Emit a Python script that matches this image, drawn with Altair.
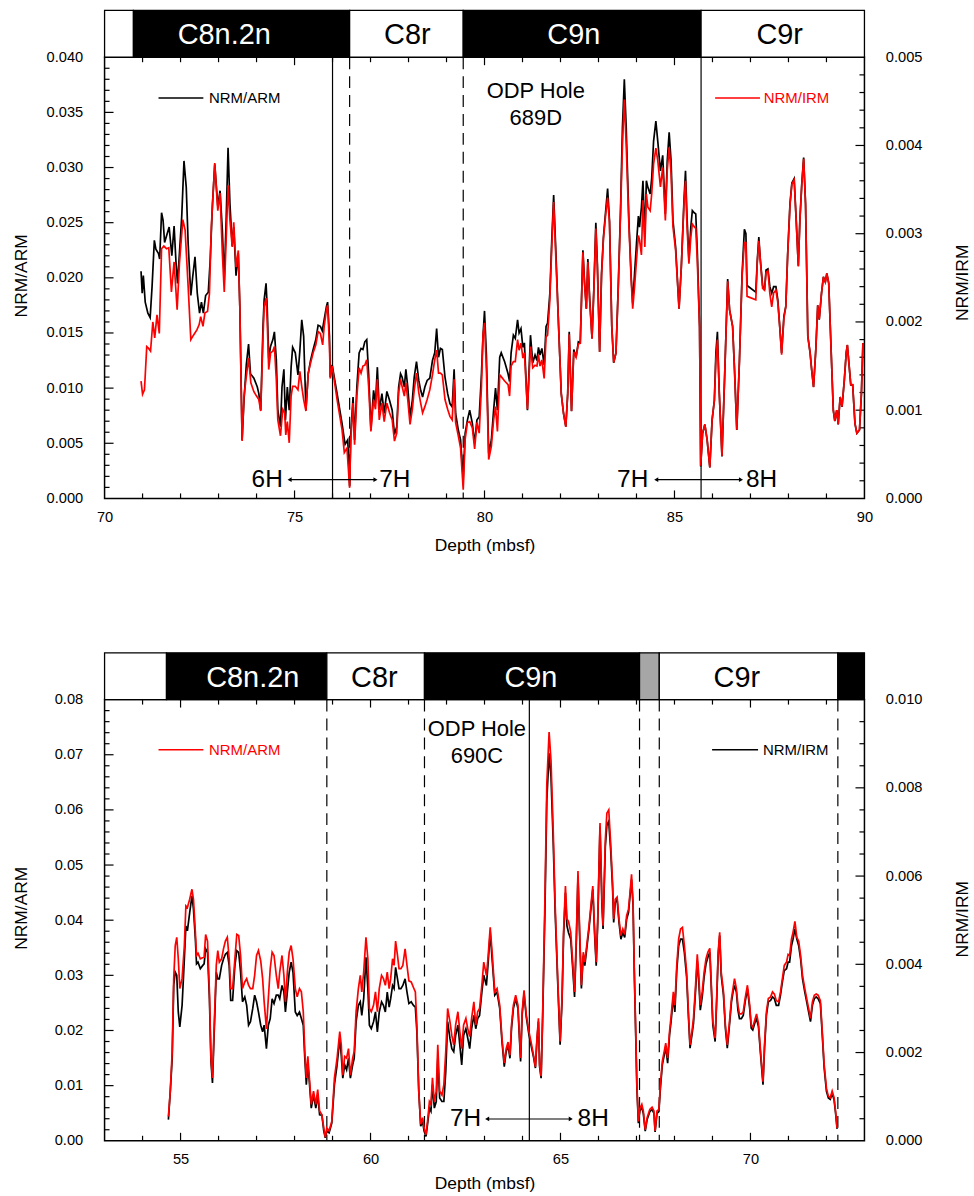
import altair as alt
import pandas as pd

FONT = "Liberation Sans"
W, H = 763, 443

# ---------------- ODP Hole 689D ----------------
# depth (mbsf), NRM/ARM
TOP_ARM_HEAD = [
    (70.96, 0.0206), (70.99, 0.0186), (71.02, 0.0202), (71.07, 0.0178), (71.14, 0.0168),
    (71.20, 0.0164), (71.25, 0.0192), (71.31, 0.0234), (71.35, 0.0226), (71.42, 0.0222),
    (71.45, 0.0217), (71.50, 0.0259), (71.54, 0.0252), (71.58, 0.0232), (71.63, 0.0238),
    (71.70, 0.0246), (71.77, 0.0220), (71.83, 0.0247), (71.88, 0.0214), (71.92, 0.0195),
    (71.97, 0.0222), (72.03, 0.0255), (72.09, 0.0306), (72.15, 0.0282), (72.20, 0.0231),
    (72.27, 0.0184), (72.32, 0.0201), (72.38, 0.0219), (72.44, 0.0186), (72.50, 0.0168),
    (72.55, 0.0178), (72.60, 0.0168), (72.66, 0.0184), (72.73, 0.0187), (72.78, 0.0216),
    (72.84, 0.0267), (72.90, 0.0303), (72.98, 0.0265), (73.04, 0.0279), (73.10, 0.0243),
    (73.15, 0.0198), (73.20, 0.0252), (73.25, 0.0318), (73.30, 0.0267), (73.36, 0.0229),
    (73.40, 0.0246), (73.46, 0.0202), (73.52, 0.0222), (73.56, 0.0174), (73.62, 0.0053),
    (73.67, 0.0089), (73.73, 0.0121), (73.79, 0.0140), (73.84, 0.0113), (73.93, 0.0109),
    (74.02, 0.0101), (74.06, 0.0095), (74.11, 0.0080), (74.17, 0.0156), (74.20, 0.0180),
    (74.25, 0.0195), (74.28, 0.0174), (74.32, 0.0127), (74.37, 0.0138), (74.43, 0.0144),
    (74.47, 0.0151), (74.52, 0.0126), (74.56, 0.0080), (74.63, 0.0065), (74.67, 0.0101),
    (74.72, 0.0117), (74.76, 0.0071), (74.81, 0.0101), (74.86, 0.0080), (74.91, 0.0119),
    (74.95, 0.0137), (75.02, 0.0132), (75.09, 0.0112), (75.14, 0.0134), (75.19, 0.0162),
    (75.24, 0.0147), (75.30, 0.0080), (75.36, 0.0113), (75.42, 0.0125), (75.49, 0.0135),
    (75.56, 0.0144), (75.62, 0.0157), (75.68, 0.0156), (75.73, 0.0152), (75.78, 0.0162),
    (75.84, 0.0174), (75.87, 0.0178), (75.92, 0.0147), (75.94, 0.0110), (75.99, 0.0121),
    (76.12, 0.0095), (76.25, 0.0068), (76.33, 0.0049), (76.40, 0.0053), (76.45, 0.0011),
    (76.48, 0.0058), (76.54, 0.0092), (76.58, 0.0053), (76.64, 0.0101), (76.70, 0.0132),
    (76.75, 0.0136), (76.80, 0.0135), (76.85, 0.0142), (76.90, 0.0144), (76.95, 0.0113),
    (77.01, 0.0062), (77.08, 0.0098), (77.13, 0.0086), (77.18, 0.0119), (77.23, 0.0080),
    (77.30, 0.0095), (77.36, 0.0077), (77.43, 0.0097), (77.50, 0.0089), (77.57, 0.0080),
    (77.63, 0.0058), (77.69, 0.0065), (77.74, 0.0101), (77.79, 0.0113), (77.83, 0.0110),
    (77.89, 0.0101), (77.93, 0.0117), (77.98, 0.0101), (78.04, 0.0074), (78.10, 0.0089),
    (78.15, 0.0110), (78.21, 0.0124), (78.27, 0.0107), (78.32, 0.0098), (78.37, 0.0092),
    (78.43, 0.0101), (78.49, 0.0107), (78.56, 0.0109), (78.63, 0.0125), (78.69, 0.0132),
    (78.74, 0.0154), (78.79, 0.0128), (78.84, 0.0136), (78.89, 0.0135), (78.96, 0.0110),
    (79.03, 0.0095), (79.09, 0.0086), (79.15, 0.0083), (79.20, 0.0117), (79.24, 0.0077),
    (79.31, 0.0062), (79.37, 0.0053), (79.44, 0.0017), (79.49, 0.0059), (79.55, 0.0071),
    (79.61, 0.0080), (79.68, 0.0068), (79.74, 0.0050), (79.80, 0.0071), (79.86, 0.0074),
    (79.92, 0.0113), (79.96, 0.0147),
]

# depth (mbsf), NRM/IRM
TOP_IRM_HEAD = [
    (70.96, 0.00133), (71.00, 0.00118), (71.05, 0.00123), (71.11, 0.00172), (71.16, 0.00170),
    (71.21, 0.00167), (71.27, 0.00200), (71.32, 0.00182), (71.38, 0.00208), (71.44, 0.00187),
    (71.50, 0.00283), (71.56, 0.00286), (71.63, 0.00283), (71.69, 0.00284), (71.76, 0.00234),
    (71.83, 0.00268), (71.91, 0.00214), (71.97, 0.00266), (72.06, 0.00316), (72.12, 0.00304),
    (72.20, 0.00240), (72.27, 0.00180), (72.34, 0.00185), (72.43, 0.00191), (72.49, 0.00197),
    (72.53, 0.00206), (72.59, 0.00195), (72.64, 0.00210), (72.71, 0.00212), (72.76, 0.00232),
    (72.81, 0.00308), (72.90, 0.00380), (72.98, 0.00326), (73.04, 0.00346), (73.10, 0.00278),
    (73.15, 0.00234), (73.20, 0.00293), (73.25, 0.00355), (73.30, 0.00315), (73.36, 0.00285),
    (73.40, 0.00313), (73.46, 0.00262), (73.52, 0.00281), (73.56, 0.00217), (73.62, 0.00065),
    (73.67, 0.00116), (73.73, 0.00138), (73.79, 0.00159), (73.85, 0.00131), (73.93, 0.00121),
    (74.00, 0.00116), (74.06, 0.00112), (74.11, 0.00099), (74.17, 0.00183), (74.20, 0.00217),
    (74.25, 0.00227), (74.28, 0.00202), (74.32, 0.00146), (74.37, 0.00165), (74.43, 0.00167),
    (74.47, 0.00172), (74.52, 0.00135), (74.56, 0.00089), (74.63, 0.00071), (74.69, 0.00101),
    (74.74, 0.00097), (74.77, 0.00072), (74.81, 0.00087), (74.86, 0.00063), (74.91, 0.00116),
    (74.95, 0.00127), (75.02, 0.00127), (75.09, 0.00123), (75.14, 0.00144), (75.19, 0.00127),
    (75.24, 0.00112), (75.30, 0.00099), (75.36, 0.00142), (75.42, 0.00153), (75.49, 0.00165),
    (75.56, 0.00174), (75.62, 0.00189), (75.68, 0.00187), (75.74, 0.00174), (75.78, 0.00195),
    (75.84, 0.00214), (75.87, 0.00219), (75.92, 0.00172), (75.94, 0.00136), (75.99, 0.00150),
    (76.12, 0.00112), (76.25, 0.00078), (76.31, 0.00052), (76.38, 0.00057), (76.45, 0.00012),
    (76.48, 0.00067), (76.54, 0.00108), (76.58, 0.00061), (76.64, 0.00116), (76.70, 0.00148),
    (76.75, 0.00142), (76.80, 0.00150), (76.85, 0.00151), (76.90, 0.00157), (76.95, 0.00127),
    (77.01, 0.00076), (77.08, 0.00112), (77.13, 0.00101), (77.18, 0.00135), (77.23, 0.00089),
    (77.30, 0.00108), (77.36, 0.00087), (77.43, 0.00108), (77.50, 0.00097), (77.57, 0.00089),
    (77.63, 0.00065), (77.69, 0.00074), (77.74, 0.00120), (77.79, 0.00135), (77.83, 0.00127),
    (77.89, 0.00116), (77.93, 0.00131), (77.98, 0.00112), (78.04, 0.00084), (78.10, 0.00101),
    (78.15, 0.00123), (78.21, 0.00142), (78.27, 0.00120), (78.32, 0.00108), (78.37, 0.00097),
    (78.43, 0.00104), (78.49, 0.00112), (78.56, 0.00123), (78.63, 0.00140), (78.69, 0.00157),
    (78.74, 0.00168), (78.79, 0.00142), (78.84, 0.00142), (78.89, 0.00140), (78.96, 0.00112),
    (79.03, 0.00101), (79.09, 0.00093), (79.15, 0.00089), (79.20, 0.00135), (79.24, 0.00086),
    (79.31, 0.00071), (79.37, 0.00057), (79.44, 0.00010), (79.49, 0.00067), (79.55, 0.00086),
    (79.61, 0.00087), (79.68, 0.00080), (79.74, 0.00056), (79.80, 0.00086), (79.86, 0.00074),
    (79.92, 0.00127), (79.96, 0.00185),
]

# depth (mbsf), NRM/ARM, NRM/IRM
TOP_TAIL = [
    (80.00, 0.0170, 0.00199), (80.05, 0.0130, 0.00146), (80.11, 0.0041, 0.00044),
    (80.18, 0.0053, 0.00059), (80.24, 0.0080, 0.00089), (80.29, 0.0100, 0.00104),
    (80.34, 0.0080, 0.00076), (80.40, 0.0128, 0.00140), (80.44, 0.0132, 0.00138),
    (80.53, 0.0124, 0.00133), (80.62, 0.0113, 0.00129), (80.66, 0.0106, 0.00116),
    (80.70, 0.0132, 0.00150), (80.76, 0.0148, 0.00155), (80.81, 0.0145, 0.00155),
    (80.87, 0.0162, 0.00180), (80.91, 0.0150, 0.00168), (80.96, 0.0154, 0.00176),
    (81.01, 0.0137, 0.00159), (81.05, 0.0141, 0.00165), (81.13, 0.0080, 0.00101),
    (81.21, 0.0148, 0.00172), (81.27, 0.0123, 0.00148), (81.33, 0.0130, 0.00151),
    (81.38, 0.0125, 0.00150), (81.42, 0.0137, 0.00163), (81.46, 0.0130, 0.00150),
    (81.51, 0.0136, 0.00157), (81.57, 0.0121, 0.00136), (81.62, 0.0156, 0.00183),
    (81.66, 0.0159, 0.00185), (81.72, 0.0186, 0.00225), (81.77, 0.0234, 0.00285),
    (81.82, 0.0275, 0.00336), (81.88, 0.0222, 0.00270), (81.95, 0.0156, 0.00195),
    (82.02, 0.0095, 0.00119), (82.08, 0.0077, 0.00096), (82.14, 0.0065, 0.00081),
    (82.19, 0.0095, 0.00119), (82.23, 0.0151, 0.00186), (82.29, 0.0079, 0.00099),
    (82.35, 0.0135, 0.00166), (82.41, 0.0128, 0.00160), (82.47, 0.0142, 0.00175),
    (82.52, 0.0141, 0.00176), (82.59, 0.0225, 0.00279), (82.63, 0.0198, 0.00245),
    (82.68, 0.0172, 0.00215), (82.72, 0.0217, 0.00268), (82.77, 0.0180, 0.00222),
    (82.83, 0.0145, 0.00181), (82.88, 0.0192, 0.00238), (82.93, 0.0250, 0.00306),
    (82.97, 0.0213, 0.00263), (83.03, 0.0133, 0.00166), (83.08, 0.0204, 0.00252),
    (83.13, 0.0237, 0.00294), (83.19, 0.0261, 0.00322), (83.24, 0.0281, 0.00341),
    (83.29, 0.0252, 0.00312), (83.35, 0.0156, 0.00195), (83.40, 0.0123, 0.00154),
    (83.46, 0.0132, 0.00165), (83.52, 0.0192, 0.00238), (83.58, 0.0261, 0.00322),
    (83.63, 0.0336, 0.00400), (83.68, 0.0380, 0.00452), (83.73, 0.0336, 0.00400),
    (83.80, 0.0252, 0.00310), (83.86, 0.0201, 0.00248), (83.90, 0.0177, 0.00215),
    (83.95, 0.0204, 0.00240), (84.00, 0.0231, 0.00270), (84.05, 0.0256, 0.00298),
    (84.08, 0.0246, 0.00293), (84.13, 0.0264, 0.00276), (84.17, 0.0288, 0.00338),
    (84.22, 0.0237, 0.00285), (84.26, 0.0288, 0.00345), (84.30, 0.0282, 0.00330),
    (84.36, 0.0276, 0.00326), (84.40, 0.0290, 0.00345), (84.45, 0.0324, 0.00379),
    (84.51, 0.0342, 0.00397), (84.56, 0.0324, 0.00383), (84.63, 0.0297, 0.00353),
    (84.69, 0.0311, 0.00375), (84.76, 0.0258, 0.00315), (84.81, 0.0306, 0.00372),
    (84.86, 0.0332, 0.00398), (84.91, 0.0306, 0.00368), (84.96, 0.0252, 0.00308),
    (85.03, 0.0228, 0.00281), (85.12, 0.0172, 0.00215), (85.18, 0.0210, 0.00262),
    (85.25, 0.0270, 0.00334), (85.29, 0.0297, 0.00360), (85.33, 0.0255, 0.00308),
    (85.38, 0.0216, 0.00266), (85.43, 0.0246, 0.00296), (85.47, 0.0261, 0.00311),
    (85.52, 0.0259, 0.00308), (85.56, 0.0258, 0.00306), (85.60, 0.0225, 0.00270),
    (85.66, 0.0156, 0.00195), (85.69, 0.0029, 0.00037), (85.74, 0.0059, 0.00074),
    (85.80, 0.0067, 0.00084), (85.86, 0.0053, 0.00066), (85.93, 0.0028, 0.00035),
    (85.99, 0.0071, 0.00089), (86.05, 0.0089, 0.00111), (86.09, 0.0132, 0.00157),
    (86.13, 0.0151, 0.00180), (86.18, 0.0095, 0.00119), (86.25, 0.0038, 0.00048),
    (86.32, 0.0110, 0.00138), (86.40, 0.0199, 0.00246), (86.45, 0.0171, 0.00214),
    (86.53, 0.0156, 0.00195), (86.58, 0.0117, 0.00146), (86.64, 0.0062, 0.00078),
    (86.71, 0.0125, 0.00156), (86.78, 0.0204, 0.00252), (86.84, 0.0244, 0.00290),
    (86.88, 0.0240, 0.00290), (86.91, 0.0193, 0.00229), (87.14, 0.0187, 0.00225),
    (87.18, 0.0216, 0.00268), (87.22, 0.0237, 0.00292), (87.26, 0.0216, 0.00270),
    (87.32, 0.0193, 0.00238), (87.37, 0.0189, 0.00236), (87.41, 0.0207, 0.00256),
    (87.46, 0.0208, 0.00258), (87.51, 0.0192, 0.00232), (87.56, 0.0186, 0.00217),
    (87.61, 0.0192, 0.00233), (87.67, 0.0192, 0.00236), (87.72, 0.0180, 0.00222),
    (87.77, 0.0156, 0.00195), (87.82, 0.0132, 0.00163), (87.88, 0.0165, 0.00204),
    (87.93, 0.0174, 0.00217), (87.98, 0.0222, 0.00277), (88.04, 0.0267, 0.00332),
    (88.09, 0.0286, 0.00356), (88.15, 0.0290, 0.00361), (88.20, 0.0255, 0.00318),
    (88.26, 0.0211, 0.00263), (88.30, 0.0252, 0.00314), (88.35, 0.0285, 0.00355),
    (88.40, 0.0309, 0.00385), (88.45, 0.0267, 0.00333), (88.51, 0.0147, 0.00183),
    (88.57, 0.0132, 0.00165), (88.61, 0.0117, 0.00146), (88.66, 0.0101, 0.00126),
    (88.72, 0.0135, 0.00169), (88.77, 0.0175, 0.00219), (88.81, 0.0162, 0.00203),
    (88.87, 0.0186, 0.00233), (88.92, 0.0201, 0.00251), (88.97, 0.0196, 0.00245),
    (89.01, 0.0204, 0.00255), (89.06, 0.0195, 0.00244), (89.12, 0.0137, 0.00171),
    (89.18, 0.0080, 0.00100), (89.22, 0.0070, 0.00088), (89.27, 0.0080, 0.00100),
    (89.31, 0.0067, 0.00084), (89.36, 0.0092, 0.00115), (89.41, 0.0083, 0.00104),
    (89.47, 0.0107, 0.00134), (89.52, 0.0132, 0.00165), (89.55, 0.0139, 0.00174),
    (89.60, 0.0119, 0.00149), (89.64, 0.0103, 0.00129), (89.69, 0.0103, 0.00129),
    (89.75, 0.0068, 0.00085), (89.80, 0.0059, 0.00074), (89.87, 0.0062, 0.00078),
    (89.92, 0.0095, 0.00119), (89.96, 0.0141, 0.00176),
]

# ---------------- ODP Hole 690C ----------------
# depth (mbsf), NRM/ARM, NRM/IRM
BOTTOM = [
    (54.68, 0.0044, 0.00048), (54.73, 0.0090, 0.00112), (54.78, 0.0162, 0.00187),
    (54.82, 0.0294, 0.00352), (54.86, 0.0354, 0.00382), (54.90, 0.0369, 0.00375),
    (54.94, 0.0330, 0.00292), (54.98, 0.0276, 0.00258), (55.04, 0.0294, 0.00307),
    (55.10, 0.0354, 0.00412), (55.14, 0.0426, 0.00487), (55.18, 0.0423, 0.00476),
    (55.24, 0.0438, 0.00517), (55.30, 0.0456, 0.00555), (55.34, 0.0438, 0.00525),
    (55.39, 0.0378, 0.00457), (55.42, 0.0336, 0.00401), (55.46, 0.0340, 0.00405),
    (55.52, 0.0330, 0.00390), (55.58, 0.0332, 0.00397), (55.62, 0.0333, 0.00401),
    (55.66, 0.0374, 0.00435), (55.71, 0.0362, 0.00427), (55.76, 0.0270, 0.00322),
    (55.80, 0.0150, 0.00180), (55.84, 0.0114, 0.00131), (55.88, 0.0198, 0.00232),
    (55.94, 0.0318, 0.00382), (55.98, 0.0345, 0.00367), (56.02, 0.0324, 0.00367),
    (56.08, 0.0330, 0.00397), (56.13, 0.0348, 0.00412), (56.18, 0.0362, 0.00423),
    (56.23, 0.0369, 0.00427), (56.28, 0.0330, 0.00397), (56.32, 0.0276, 0.00318),
    (56.37, 0.0276, 0.00318), (56.43, 0.0330, 0.00397), (56.48, 0.0374, 0.00431),
    (56.53, 0.0372, 0.00427), (56.58, 0.0336, 0.00382), (56.63, 0.0276, 0.00315),
    (56.69, 0.0288, 0.00326), (56.74, 0.0294, 0.00307), (56.79, 0.0282, 0.00262),
    (56.84, 0.0276, 0.00270), (56.90, 0.0276, 0.00300), (56.95, 0.0300, 0.00330),
    (57.00, 0.0336, 0.00315), (57.05, 0.0345, 0.00292), (57.11, 0.0326, 0.00262),
    (57.16, 0.0294, 0.00247), (57.20, 0.0252, 0.00262), (57.26, 0.0203, 0.00209),
    (57.31, 0.0258, 0.00262), (57.36, 0.0312, 0.00277), (57.41, 0.0342, 0.00322),
    (57.46, 0.0336, 0.00311), (57.52, 0.0300, 0.00330), (57.57, 0.0276, 0.00330),
    (57.61, 0.0306, 0.00322), (57.67, 0.0336, 0.00352), (57.72, 0.0300, 0.00337),
    (57.76, 0.0252, 0.00292), (57.81, 0.0306, 0.00337), (57.86, 0.0342, 0.00382),
    (57.91, 0.0354, 0.00405), (57.96, 0.0330, 0.00382), (58.02, 0.0276, 0.00292),
    (58.07, 0.0261, 0.00284), (58.13, 0.0276, 0.00292), (58.18, 0.0270, 0.00277),
    (58.23, 0.0234, 0.00262), (58.27, 0.0162, 0.00187), (58.31, 0.0114, 0.00127),
    (58.35, 0.0153, 0.00172), (58.39, 0.0114, 0.00134), (58.44, 0.0066, 0.00074),
    (58.50, 0.0090, 0.00104), (58.56, 0.0066, 0.00074), (58.61, 0.0093, 0.00104),
    (58.66, 0.0054, 0.00059), (58.72, 0.0047, 0.00058), (58.77, 0.0023, 0.00022),
    (58.81, 0.0006, 0.00007), (58.85, 0.0023, 0.00022), (58.91, 0.0018, 0.00018),
    (58.98, 0.0035, 0.00040), (59.05, 0.0114, 0.00127), (59.12, 0.0150, 0.00172),
    (59.19, 0.0198, 0.00232), (59.23, 0.0174, 0.00194), (59.27, 0.0119, 0.00142),
    (59.32, 0.0153, 0.00172), (59.37, 0.0150, 0.00161), (59.42, 0.0167, 0.00187),
    (59.47, 0.0119, 0.00142), (59.53, 0.0150, 0.00172), (59.57, 0.0162, 0.00187),
    (59.62, 0.0234, 0.00270), (59.68, 0.0276, 0.00307), (59.73, 0.0300, 0.00315),
    (59.77, 0.0270, 0.00284), (59.82, 0.0306, 0.00322), (59.88, 0.0369, 0.00416),
    (59.93, 0.0330, 0.00345), (59.97, 0.0240, 0.00262), (60.02, 0.0234, 0.00254),
    (60.08, 0.0246, 0.00270), (60.13, 0.0270, 0.00292), (60.18, 0.0234, 0.00247),
    (60.23, 0.0276, 0.00292), (60.29, 0.0300, 0.00315), (60.34, 0.0294, 0.00307),
    (60.39, 0.0282, 0.00292), (60.44, 0.0306, 0.00337), (60.49, 0.0276, 0.00303),
    (60.53, 0.0294, 0.00322), (60.58, 0.0330, 0.00352), (60.62, 0.0318, 0.00345),
    (60.66, 0.0362, 0.00393), (60.71, 0.0336, 0.00367), (60.75, 0.0312, 0.00345),
    (60.80, 0.0312, 0.00345), (60.85, 0.0318, 0.00352), (60.91, 0.0348, 0.00367),
    (60.96, 0.0318, 0.00337), (61.01, 0.0290, 0.00311), (61.07, 0.0288, 0.00315),
    (61.13, 0.0278, 0.00307), (61.18, 0.0270, 0.00303), (61.22, 0.0210, 0.00247),
    (61.27, 0.0090, 0.00112), (61.32, 0.0030, 0.00033), (61.37, 0.0042, 0.00044),
    (61.41, 0.0023, 0.00022), (61.46, 0.0011, 0.00010), (61.50, 0.0035, 0.00037),
    (61.55, 0.0071, 0.00074), (61.59, 0.0066, 0.00067), (61.63, 0.0114, 0.00127),
    (61.68, 0.0071, 0.00074), (61.73, 0.0090, 0.00089), (61.77, 0.0174, 0.00187),
    (61.82, 0.0090, 0.00097), (61.88, 0.0083, 0.00089), (61.93, 0.0102, 0.00089),
    (61.98, 0.0162, 0.00157), (62.03, 0.0240, 0.00270), (62.09, 0.0216, 0.00232),
    (62.14, 0.0191, 0.00209), (62.19, 0.0174, 0.00202), (62.24, 0.0210, 0.00239),
    (62.30, 0.0234, 0.00262), (62.35, 0.0198, 0.00217), (62.40, 0.0167, 0.00172),
    (62.45, 0.0210, 0.00239), (62.51, 0.0222, 0.00254), (62.56, 0.0203, 0.00232),
    (62.61, 0.0189, 0.00209), (62.66, 0.0222, 0.00254), (62.72, 0.0252, 0.00284),
    (62.77, 0.0210, 0.00254), (62.82, 0.0234, 0.00277), (62.87, 0.0240, 0.00284),
    (62.93, 0.0282, 0.00337), (62.98, 0.0324, 0.00375), (63.05, 0.0300, 0.00352),
    (63.09, 0.0330, 0.00397), (63.15, 0.0387, 0.00472), (63.20, 0.0342, 0.00412),
    (63.27, 0.0270, 0.00330), (63.33, 0.0276, 0.00337), (63.40, 0.0246, 0.00300),
    (63.46, 0.0186, 0.00225), (63.52, 0.0141, 0.00168), (63.57, 0.0167, 0.00202),
    (63.62, 0.0179, 0.00217), (63.67, 0.0155, 0.00187), (63.71, 0.0210, 0.00254),
    (63.76, 0.0246, 0.00300), (63.82, 0.0264, 0.00322), (63.88, 0.0246, 0.00300),
    (63.95, 0.0150, 0.00180), (63.99, 0.0234, 0.00285), (64.04, 0.0273, 0.00333),
    (64.10, 0.0228, 0.00280), (64.17, 0.0198, 0.00240), (64.24, 0.0174, 0.00210),
    (64.29, 0.0155, 0.00190), (64.34, 0.0134, 0.00165), (64.38, 0.0186, 0.00228),
    (64.42, 0.0222, 0.00270), (64.45, 0.0138, 0.00168), (64.49, 0.0117, 0.00142),
    (64.53, 0.0228, 0.00277), (64.59, 0.0438, 0.00520), (64.64, 0.0648, 0.00772),
    (64.70, 0.0741, 0.00878), (64.75, 0.0690, 0.00825), (64.81, 0.0558, 0.00672),
    (64.86, 0.0426, 0.00517), (64.93, 0.0288, 0.00352), (64.99, 0.0180, 0.00218),
    (65.04, 0.0258, 0.00315), (65.08, 0.0378, 0.00461), (65.13, 0.0462, 0.00562),
    (65.17, 0.0402, 0.00487), (65.21, 0.0398, 0.00472), (65.27, 0.0378, 0.00457),
    (65.32, 0.0324, 0.00393), (65.37, 0.0270, 0.00326), (65.42, 0.0378, 0.00461),
    (65.46, 0.0489, 0.00600), (65.50, 0.0390, 0.00475), (65.55, 0.0282, 0.00345),
    (65.60, 0.0342, 0.00420), (65.64, 0.0324, 0.00397), (65.69, 0.0354, 0.00435),
    (65.75, 0.0390, 0.00480), (65.80, 0.0426, 0.00525), (65.85, 0.0462, 0.00570),
    (65.90, 0.0378, 0.00465), (65.94, 0.0324, 0.00397), (65.98, 0.0402, 0.00495),
    (66.04, 0.0576, 0.00712), (66.09, 0.0438, 0.00535), (66.12, 0.0390, 0.00480),
    (66.18, 0.0546, 0.00667), (66.22, 0.0594, 0.00715), (66.27, 0.0600, 0.00724),
    (66.32, 0.0540, 0.00660), (66.37, 0.0468, 0.00575), (66.40, 0.0402, 0.00495),
    (66.44, 0.0438, 0.00540), (66.49, 0.0442, 0.00547), (66.54, 0.0402, 0.00495),
    (66.59, 0.0372, 0.00457), (66.64, 0.0384, 0.00472), (66.69, 0.0374, 0.00461),
    (66.74, 0.0408, 0.00502), (66.79, 0.0420, 0.00517), (66.83, 0.0450, 0.00555),
    (66.87, 0.0483, 0.00592), (66.91, 0.0432, 0.00532), (66.94, 0.0318, 0.00390),
    (66.98, 0.0198, 0.00240), (67.01, 0.0102, 0.00120), (67.05, 0.0035, 0.00040),
    (67.09, 0.0059, 0.00068), (67.14, 0.0066, 0.00076), (67.18, 0.0054, 0.00062),
    (67.23, 0.0020, 0.00022), (67.28, 0.0042, 0.00048), (67.35, 0.0057, 0.00066),
    (67.41, 0.0061, 0.00071), (67.46, 0.0054, 0.00062), (67.49, 0.0018, 0.00020),
    (67.54, 0.0054, 0.00062), (67.59, 0.0057, 0.00066), (67.63, 0.0102, 0.00120),
    (67.68, 0.0144, 0.00172), (67.73, 0.0162, 0.00194), (67.77, 0.0177, 0.00213),
    (67.82, 0.0150, 0.00176), (67.87, 0.0198, 0.00240), (67.91, 0.0225, 0.00270),
    (67.97, 0.0270, 0.00326), (68.01, 0.0246, 0.00292), (68.06, 0.0318, 0.00386),
    (68.11, 0.0366, 0.00442), (68.16, 0.0384, 0.00457), (68.21, 0.0387, 0.00457),
    (68.26, 0.0354, 0.00427), (68.32, 0.0306, 0.00371), (68.37, 0.0228, 0.00277),
    (68.41, 0.0174, 0.00210), (68.46, 0.0198, 0.00240), (68.50, 0.0222, 0.00266),
    (68.55, 0.0276, 0.00333), (68.60, 0.0338, 0.00408), (68.64, 0.0300, 0.00360),
    (68.68, 0.0246, 0.00296), (68.73, 0.0270, 0.00326), (68.78, 0.0306, 0.00371),
    (68.83, 0.0330, 0.00401), (68.88, 0.0342, 0.00416), (68.93, 0.0349, 0.00427),
    (68.97, 0.0282, 0.00345), (69.01, 0.0216, 0.00262), (69.07, 0.0186, 0.00225),
    (69.11, 0.0258, 0.00315), (69.15, 0.0342, 0.00420), (69.19, 0.0378, 0.00465),
    (69.23, 0.0306, 0.00375), (69.29, 0.0270, 0.00330), (69.34, 0.0210, 0.00255),
    (69.39, 0.0174, 0.00210), (69.44, 0.0210, 0.00255), (69.50, 0.0258, 0.00315),
    (69.54, 0.0276, 0.00337), (69.58, 0.0294, 0.00352), (69.63, 0.0276, 0.00337),
    (69.67, 0.0246, 0.00296), (69.71, 0.0230, 0.00277), (69.76, 0.0230, 0.00277),
    (69.81, 0.0234, 0.00284), (69.86, 0.0258, 0.00315), (69.92, 0.0282, 0.00345),
    (69.98, 0.0246, 0.00300), (70.02, 0.0210, 0.00255), (70.06, 0.0206, 0.00251),
    (70.11, 0.0218, 0.00266), (70.16, 0.0230, 0.00277), (70.21, 0.0213, 0.00259),
    (70.26, 0.0167, 0.00202), (70.33, 0.0107, 0.00127), (70.37, 0.0174, 0.00210),
    (70.42, 0.0234, 0.00285), (70.47, 0.0258, 0.00315), (70.53, 0.0261, 0.00318),
    (70.58, 0.0270, 0.00326), (70.63, 0.0266, 0.00322), (70.68, 0.0254, 0.00307),
    (70.74, 0.0252, 0.00307), (70.79, 0.0270, 0.00330), (70.84, 0.0294, 0.00360),
    (70.89, 0.0318, 0.00386), (70.95, 0.0324, 0.00390), (70.99, 0.0338, 0.00405),
    (71.03, 0.0336, 0.00405), (71.08, 0.0366, 0.00442), (71.12, 0.0378, 0.00457),
    (71.17, 0.0398, 0.00480), (71.22, 0.0369, 0.00457), (71.27, 0.0362, 0.00442),
    (71.32, 0.0336, 0.00412), (71.37, 0.0300, 0.00367), (71.43, 0.0276, 0.00337),
    (71.48, 0.0258, 0.00315), (71.53, 0.0240, 0.00292), (71.58, 0.0222, 0.00270),
    (71.63, 0.0252, 0.00307), (71.68, 0.0264, 0.00322), (71.73, 0.0266, 0.00326),
    (71.78, 0.0264, 0.00322), (71.84, 0.0254, 0.00311), (71.89, 0.0198, 0.00240),
    (71.94, 0.0138, 0.00165), (72.00, 0.0095, 0.00112), (72.05, 0.0081, 0.00097),
    (72.10, 0.0078, 0.00094), (72.15, 0.0090, 0.00108), (72.20, 0.0078, 0.00093),
    (72.24, 0.0054, 0.00063), (72.28, 0.0023, 0.00027),
]

# Polarity zones: top depth, bottom depth, fill
TOP_CHRONS = [(70.00, 70.76, "white"), (70.76, 76.45, "black"), (76.45, 79.44, "white"),
              (79.44, 85.70, "black"), (85.70, 90.00, "white")]
TOP_CHRON_LABELS = [("C8n.2n", 73.15, "white"), ("C8r", 77.97, "black"),
                    ("C9n", 82.35, "white"), ("C9r", 87.77, "black")]
BOTTOM_CHRONS = [(53.00, 54.63, "white"), (54.63, 58.85, "black"), (58.85, 61.42, "white"),
                 (61.42, 67.08, "black"), (67.08, 67.60, "#a6a6a6"), (67.60, 72.30, "white"),
                 (72.30, 73.00, "black")]
BOTTOM_CHRON_LABELS = [("C8n.2n", 56.90, "white"), ("C8r", 60.10, "black"),
                       ("C9n", 64.22, "white"), ("C9r", 69.64, "black")]

# Core breaks (solid) and chron boundaries (dashed)
TOP_SOLID = [76.00, 85.70]
TOP_DASHED = [76.45, 79.44]
BOTTOM_SOLID = [64.18]
BOTTOM_DASHED = [58.85, 61.42, 67.08, 67.60, 72.30]

# Core labels: text, depth, alignment
TOP_CORES = [("6H", 74.69, "right"), ("7H", 77.23, "left"), ("7H", 84.31, "right"), ("8H", 86.88, "left")]
TOP_ARROWS = [(74.87, 77.13), (84.52, 86.75)]
BOTTOM_CORES = [("7H", 62.91, "right"), ("8H", 65.45, "left")]
BOTTOM_ARROWS = [(63.07, 65.27)]

TITLE_SIZE = 17.5


def build_panel(arm_df, irm_df, arm_color, irm_color, x_dom, arm_max, irm_max,
                arm_major, arm_minor, irm_major, irm_minor, arm_fmt, irm_fmt,
                chrons, chron_labels, solid, dashed, legend_rows, hole_lines,
                cores, arrows, core_y, arm_title_y, irm_title_y, x_title_y, irm_on_top,
                x_labels):
    xs = alt.Scale(domain=x_dom, nice=False, zero=False)
    ls = alt.Scale(domain=[0, arm_max], nice=False, zero=False)
    rs = alt.Scale(domain=[0, irm_max], nice=False, zero=False)

    # one shared depth axis definition used by every layer
    x_axis = alt.Axis(values=x_labels, format="d", ticks=False, domain=False, grid=False,
                      labelPadding=11, labelFlush=False, labelOverlap=False,
                      title="Depth (mbsf)", titleY=x_title_y, titleBaseline="middle",
                      titleFontSize=TITLE_SIZE)

    def X(f):
        return alt.X(f"{f}:Q", scale=xs, axis=x_axis)

    def YL(f, axis=None):
        return alt.Y(f"{f}:Q", scale=ls, axis=axis)

    def YR(f, axis=None):
        return alt.Y(f"{f}:Q", scale=rs, axis=axis)

    layers = []

    # polarity bar above the plot
    cdf = pd.DataFrame(chrons, columns=["a", "b", "fill"])
    layers.append(alt.Chart(cdf).mark_rect(stroke="black", strokeWidth=1.3).encode(
        x=X("a"), x2="b", y=alt.value(-47), y2=alt.value(0),
        fill=alt.Color("fill:N", scale=None)))
    cl = pd.DataFrame(chron_labels, columns=["t", "d", "c"])
    layers.append(alt.Chart(cl).mark_text(font=FONT, fontSize=29, baseline="middle").encode(
        x=X("d"), y=alt.value(-22), text="t:N", color=alt.Color("c:N", scale=None)))

    # vertical boundary lines
    layers.append(alt.Chart(pd.DataFrame({"d": dashed})).mark_rule(
        color="black", strokeWidth=1.2, strokeDash=[12, 7]).encode(x=X("d")))
    layers.append(alt.Chart(pd.DataFrame({"d": solid})).mark_rule(
        color="black", strokeWidth=1.2).encode(x=X("d")))

    # inward tick marks on all four sides
    xt = list(range(int(x_dom[0]) + 1, int(x_dom[1])))
    xmaj = pd.DataFrame({"d": [v for v in xt if v % 5 == 0]})
    xmin = pd.DataFrame({"d": [v for v in xt if v % 5 != 0]})
    for df, ln in ((xmaj, 8), (xmin, 5)):
        layers.append(alt.Chart(df).mark_rule(color="black", strokeWidth=1.2).encode(
            x=X("d"), y=alt.value(H), y2=alt.value(H - ln)))
        layers.append(alt.Chart(df).mark_rule(color="black", strokeWidth=1.2).encode(
            x=X("d"), y=alt.value(0), y2=alt.value(ln)))
    n_l = int(round(arm_max / arm_minor))
    lt = [round(i * arm_minor, 6) for i in range(1, n_l)]
    k_l = int(round(arm_major / arm_minor))
    lmaj = pd.DataFrame({"v": [v for i, v in enumerate(lt, 1) if i % k_l == 0]})
    lmin = pd.DataFrame({"v": [v for i, v in enumerate(lt, 1) if i % k_l != 0]})
    for df, ln in ((lmaj, 9), (lmin, 5)):
        layers.append(alt.Chart(df).mark_rule(color="black", strokeWidth=1.2).encode(
            y=YL("v"), x=alt.value(0), x2=alt.value(ln)))
    n_r = int(round(irm_max / irm_minor))
    rt = [round(i * irm_minor, 7) for i in range(1, n_r)]
    k_r = int(round(irm_major / irm_minor))
    rmaj = pd.DataFrame({"v": [v for i, v in enumerate(rt, 1) if i % k_r == 0]})
    rmin = pd.DataFrame({"v": [v for i, v in enumerate(rt, 1) if i % k_r != 0]})
    for df, ln in ((rmaj, 9), (rmin, 5)):
        layers.append(alt.Chart(df).mark_rule(color="black", strokeWidth=1.2).encode(
            y=YR("v"), x=alt.value(W), x2=alt.value(W - ln)))

    # data series
    left_axis = alt.Axis(values=[round(i * arm_major, 6) for i in range(int(round(arm_max / arm_major)) + 1)],
                         format=arm_fmt, orient="left", ticks=False, domain=False, grid=False,
                         labelPadding=22, labelFlush=False, labelOverlap=False,
                         title="NRM/ARM", titleAngle=270, titleAlign="center",
                         titleBaseline="middle", titleX=-83, titleY=arm_title_y,
                         titleFontSize=TITLE_SIZE)
    right_axis = alt.Axis(values=[round(i * irm_major, 7) for i in range(int(round(irm_max / irm_major)) + 1)],
                          format=irm_fmt, orient="right", ticks=False, domain=False, grid=False,
                          labelPadding=21, labelFlush=False, labelOverlap=False,
                          title="NRM/IRM", titleAngle=270, titleAlign="center",
                          titleBaseline="middle", titleX=98, titleY=irm_title_y,
                          titleFontSize=TITLE_SIZE)

    arm_line = alt.Chart(arm_df).mark_line(color=arm_color, strokeWidth=1.7).encode(
        x=X("depth"), y=YL("arm", left_axis))
    irm_line = alt.Chart(irm_df).mark_line(color=irm_color, strokeWidth=1.7).encode(
        x=X("depth"), y=YR("irm", right_axis))
    layers += [arm_line, irm_line] if irm_on_top else [irm_line, arm_line]

    # in-plot legend entries
    lg = pd.DataFrame(legend_rows, columns=["a", "b", "y", "tx", "t", "c"])
    layers.append(alt.Chart(lg).mark_rule(strokeWidth=1.6).encode(
        x=X("a"), x2="b", y=YL("y"), color=alt.Color("c:N", scale=None)))
    layers.append(alt.Chart(lg).mark_text(font=FONT, fontSize=15, align="left", baseline="middle").encode(
        x=X("tx"), y=YL("y"), text="t:N", color=alt.Color("c:N", scale=None)))

    # hole name
    hl = pd.DataFrame(hole_lines, columns=["t", "d", "y"])
    layers.append(alt.Chart(hl).mark_text(font=FONT, fontSize=22, baseline="middle", color="black").encode(
        x=X("d"), y=YL("y"), text="t:N"))

    # core labels and arrows
    for t, d, al in cores:
        layers.append(alt.Chart(pd.DataFrame({"t": [t], "d": [d], "y": [core_y]})).mark_text(
            font=FONT, fontSize=24.5, align=al, baseline="middle", color="black").encode(
            x=X("d"), y=YL("y"), text="t:N"))
    ar = pd.DataFrame(arrows, columns=["a", "b"])
    ar["y"] = core_y
    layers.append(alt.Chart(ar).mark_rule(color="black", strokeWidth=1.1).encode(
        x=X("a"), x2="b", y=YL("y")))
    layers.append(alt.Chart(ar).mark_point(shape="triangle-left", filled=True, size=22,
                                           color="black", opacity=1).encode(x=X("a"), y=YL("y")))
    layers.append(alt.Chart(ar).mark_point(shape="triangle-right", filled=True, size=22,
                                           color="black", opacity=1).encode(x=X("b"), y=YL("y")))

    return alt.layer(*layers).resolve_scale(y="independent").properties(width=W, height=H)


top_arm = pd.DataFrame([(d, a) for d, a in TOP_ARM_HEAD] + [(d, a) for d, a, _ in TOP_TAIL],
                       columns=["depth", "arm"])
top_irm = pd.DataFrame([(d, r) for d, r in TOP_IRM_HEAD] + [(d, r) for d, _, r in TOP_TAIL],
                       columns=["depth", "irm"])
bot_arm = pd.DataFrame([(d, a) for d, a, _ in BOTTOM], columns=["depth", "arm"])
bot_irm = pd.DataFrame([(d, r) for d, _, r in BOTTOM], columns=["depth", "irm"])

top = build_panel(
    top_arm, top_irm, "black", "#ff0000", [70, 90], 0.040, 0.005,
    0.005, 0.001, 0.001, 0.0002, ".3f", ".3f",
    TOP_CHRONS, TOP_CHRON_LABELS, TOP_SOLID, TOP_DASHED,
    [(71.42, 72.60, 0.0363, 72.75, "NRM/ARM", "black"),
     (86.07, 87.25, 0.0363, 87.35, "NRM/IRM", "#ff0000")],
    [("ODP Hole", 81.35, 0.0369), ("689D", 81.35, 0.0345)],
    TOP_CORES, TOP_ARROWS, 0.0017, 219, 226, 47, True, [70, 75, 80, 85, 90])

bottom = build_panel(
    bot_arm, bot_irm, "#ff0000", "black", [53, 73], 0.08, 0.010,
    0.01, 0.002, 0.002, 0.0005, ".2f", ".3f",
    BOTTOM_CHRONS, BOTTOM_CHRON_LABELS, BOTTOM_SOLID, BOTTOM_DASHED,
    [(54.42, 55.60, 0.0709, 55.75, "NRM/ARM", "#ff0000"),
     (68.99, 70.20, 0.0709, 70.33, "NRM/IRM", "black")],
    [("ODP Hole", 62.80, 0.0746), ("690C", 62.80, 0.0697)],
    BOTTOM_CORES, BOTTOM_ARROWS, 0.00396, 209, 220, 43, False, [55, 60, 65, 70])

chart = alt.vconcat(top, bottom, spacing=96).properties(
    padding={"left": 12, "top": 6, "right": 2, "bottom": 5},
    background="white",
).configure_view(
    stroke="black", strokeWidth=1.5
).configure_axis(
    labelFont=FONT, labelFontSize=14.7, labelColor="black",
    titleFont=FONT, titleFontSize=TITLE_SIZE, titleFontWeight="normal", titleColor="black",
)

chart.save("out.html", embed_options={"renderer": "svg", "actions": False})
